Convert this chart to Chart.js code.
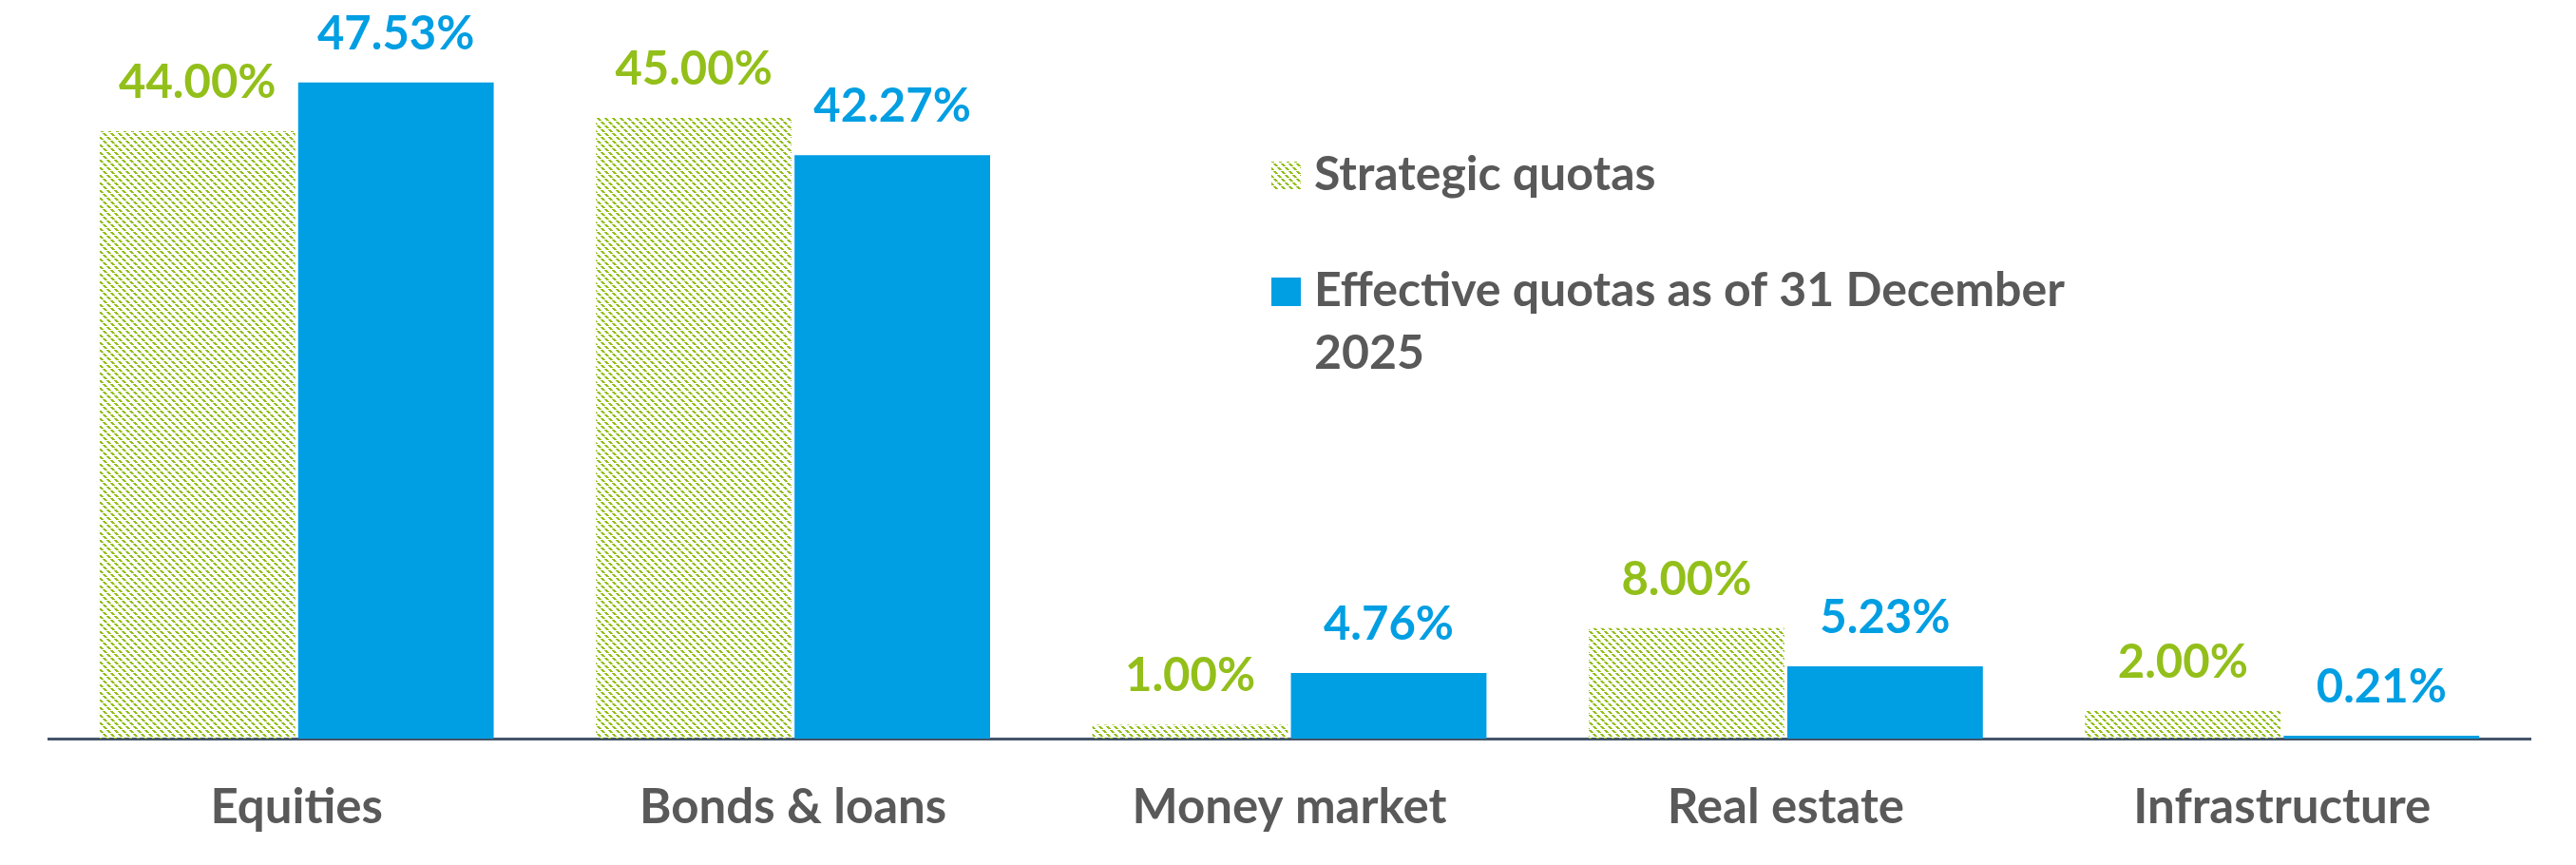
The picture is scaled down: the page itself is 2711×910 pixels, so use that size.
<!DOCTYPE html>
<html>
<head>
<meta charset="utf-8">
<script src="https://cdn.jsdelivr.net/npm/chart.js@4.4.1/dist/chart.umd.min.js"></script>
<style>
  html, body { margin: 0; padding: 0; background: #fff; }
  #wrap { width: 2711px; height: 910px; }
</style>
</head>
<body>
<div id="wrap"><canvas id="allocChart"></canvas></div>
<script>
// asset allocation data
const categories = ["Equities", "Bonds & loans", "Money market", "Real estate", "Infrastructure"];
const strategicQuotas = [44.0, 45.0, 1.0, 8.0, 2.0];
const effectiveQuotas = [47.53, 42.27, 4.76, 5.23, 0.21];
const seriesNames = ["Strategic quotas", "Effective quotas as of 31 December 2025"];

const GREEN = "#93BF1A";
const BLUE = "#009EE2";
const GREY = "#595959";
const FONT = "Lato, 'Open Sans', sans-serif";

const canvas = document.getElementById("allocChart");
const ctx = canvas.getContext("2d");

// diagonal dashed hatch like the Excel pattern fill
function makeHatch(color) {
  const size = 8;
  const tile = document.createElement("canvas");
  tile.width = size;
  tile.height = size;
  const g = tile.getContext("2d");
  g.fillStyle = color;
  [0, 1, 2, 4, 5, 6].forEach((i) => {
    g.fillRect(i, i, 3, 1);
    if (i + 3 > size) g.fillRect(i - size, i, 3, 1);
  });
  return ctx.createPattern(tile, "repeat");
}
const hatch = makeHatch(GREEN);

const valueLabels = {
  id: "valueLabels",
  afterDatasetsDraw(chart) {
    const c = chart.ctx;
    c.save();
    c.font = `700 49px ${FONT}`;
    c.textAlign = "center";
    c.textBaseline = "alphabetic";
    chart.data.datasets.forEach((ds, i) => {
      const meta = chart.getDatasetMeta(i);
      c.fillStyle = ds.labelColor;
      meta.data.forEach((bar, j) => {
        c.fillText(ds.data[j].toFixed(2) + "%", bar.x, bar.y - 35);
      });
    });
    c.restore();
  },
};

const sideLegend = {
  id: "sideLegend",
  afterDraw(chart, args, opts) {
    const c = chart.ctx;
    c.save();
    c.font = `700 50px ${FONT}`;
    c.textBaseline = "alphabetic";
    c.textAlign = "left";
    let y = opts.y;
    chart.data.datasets.forEach((ds) => {
      c.fillStyle = ds.backgroundColor;
      c.fillRect(opts.x, y - 30, 31, 30);
      c.fillStyle = GREY;
      // simple word wrap
      const words = ds.label.split(" ");
      let line = "";
      let ly = y;
      words.forEach((w) => {
        const test = line ? line + " " + w : w;
        if (c.measureText(test).width > opts.maxWidth && line) {
          c.fillText(line, opts.x + 45, ly);
          line = w;
          ly += 66;
        } else {
          line = test;
        }
      });
      c.fillText(line, opts.x + 45, ly);
      y += 122;
    });
    c.restore();
  },
};

new Chart(canvas, {
  type: "bar",
  data: {
    labels: categories,
    datasets: [
      {
        label: seriesNames[0],
        data: strategicQuotas,
        backgroundColor: hatch,
        labelColor: GREEN,
        borderWidth: 0,
      },
      {
        label: seriesNames[1],
        data: effectiveQuotas,
        backgroundColor: BLUE,
        labelColor: BLUE,
        borderWidth: 0,
      },
    ],
  },
  options: {
    responsive: true,
    maintainAspectRatio: false,
    animation: false,
    devicePixelRatio: 1,
    layout: { padding: { top: 51, left: 51, right: 48, bottom: 0 } },
    datasets: { bar: { categoryPercentage: 0.8, barPercentage: 0.985 } },
    plugins: {
      legend: { display: false },
      tooltip: { enabled: false },
      sideLegend: { x: 1338, y: 200, maxWidth: 880 },
    },
    scales: {
      x: {
        grid: { display: false, drawTicks: false },
        border: { display: true, color: "#44546A", width: 3 },
        ticks: {
          color: GREY,
          padding: 57,
          font: { family: FONT, size: 51, weight: "700", lineHeight: 0.6 },
        },
        afterFit(scale) {
          scale.height = 133;
        },
      },
      y: {
        display: false,
        min: 0,
        max: 50,
      },
    },
  },
  plugins: [valueLabels, sideLegend],
});
</script>
</body>
</html>
